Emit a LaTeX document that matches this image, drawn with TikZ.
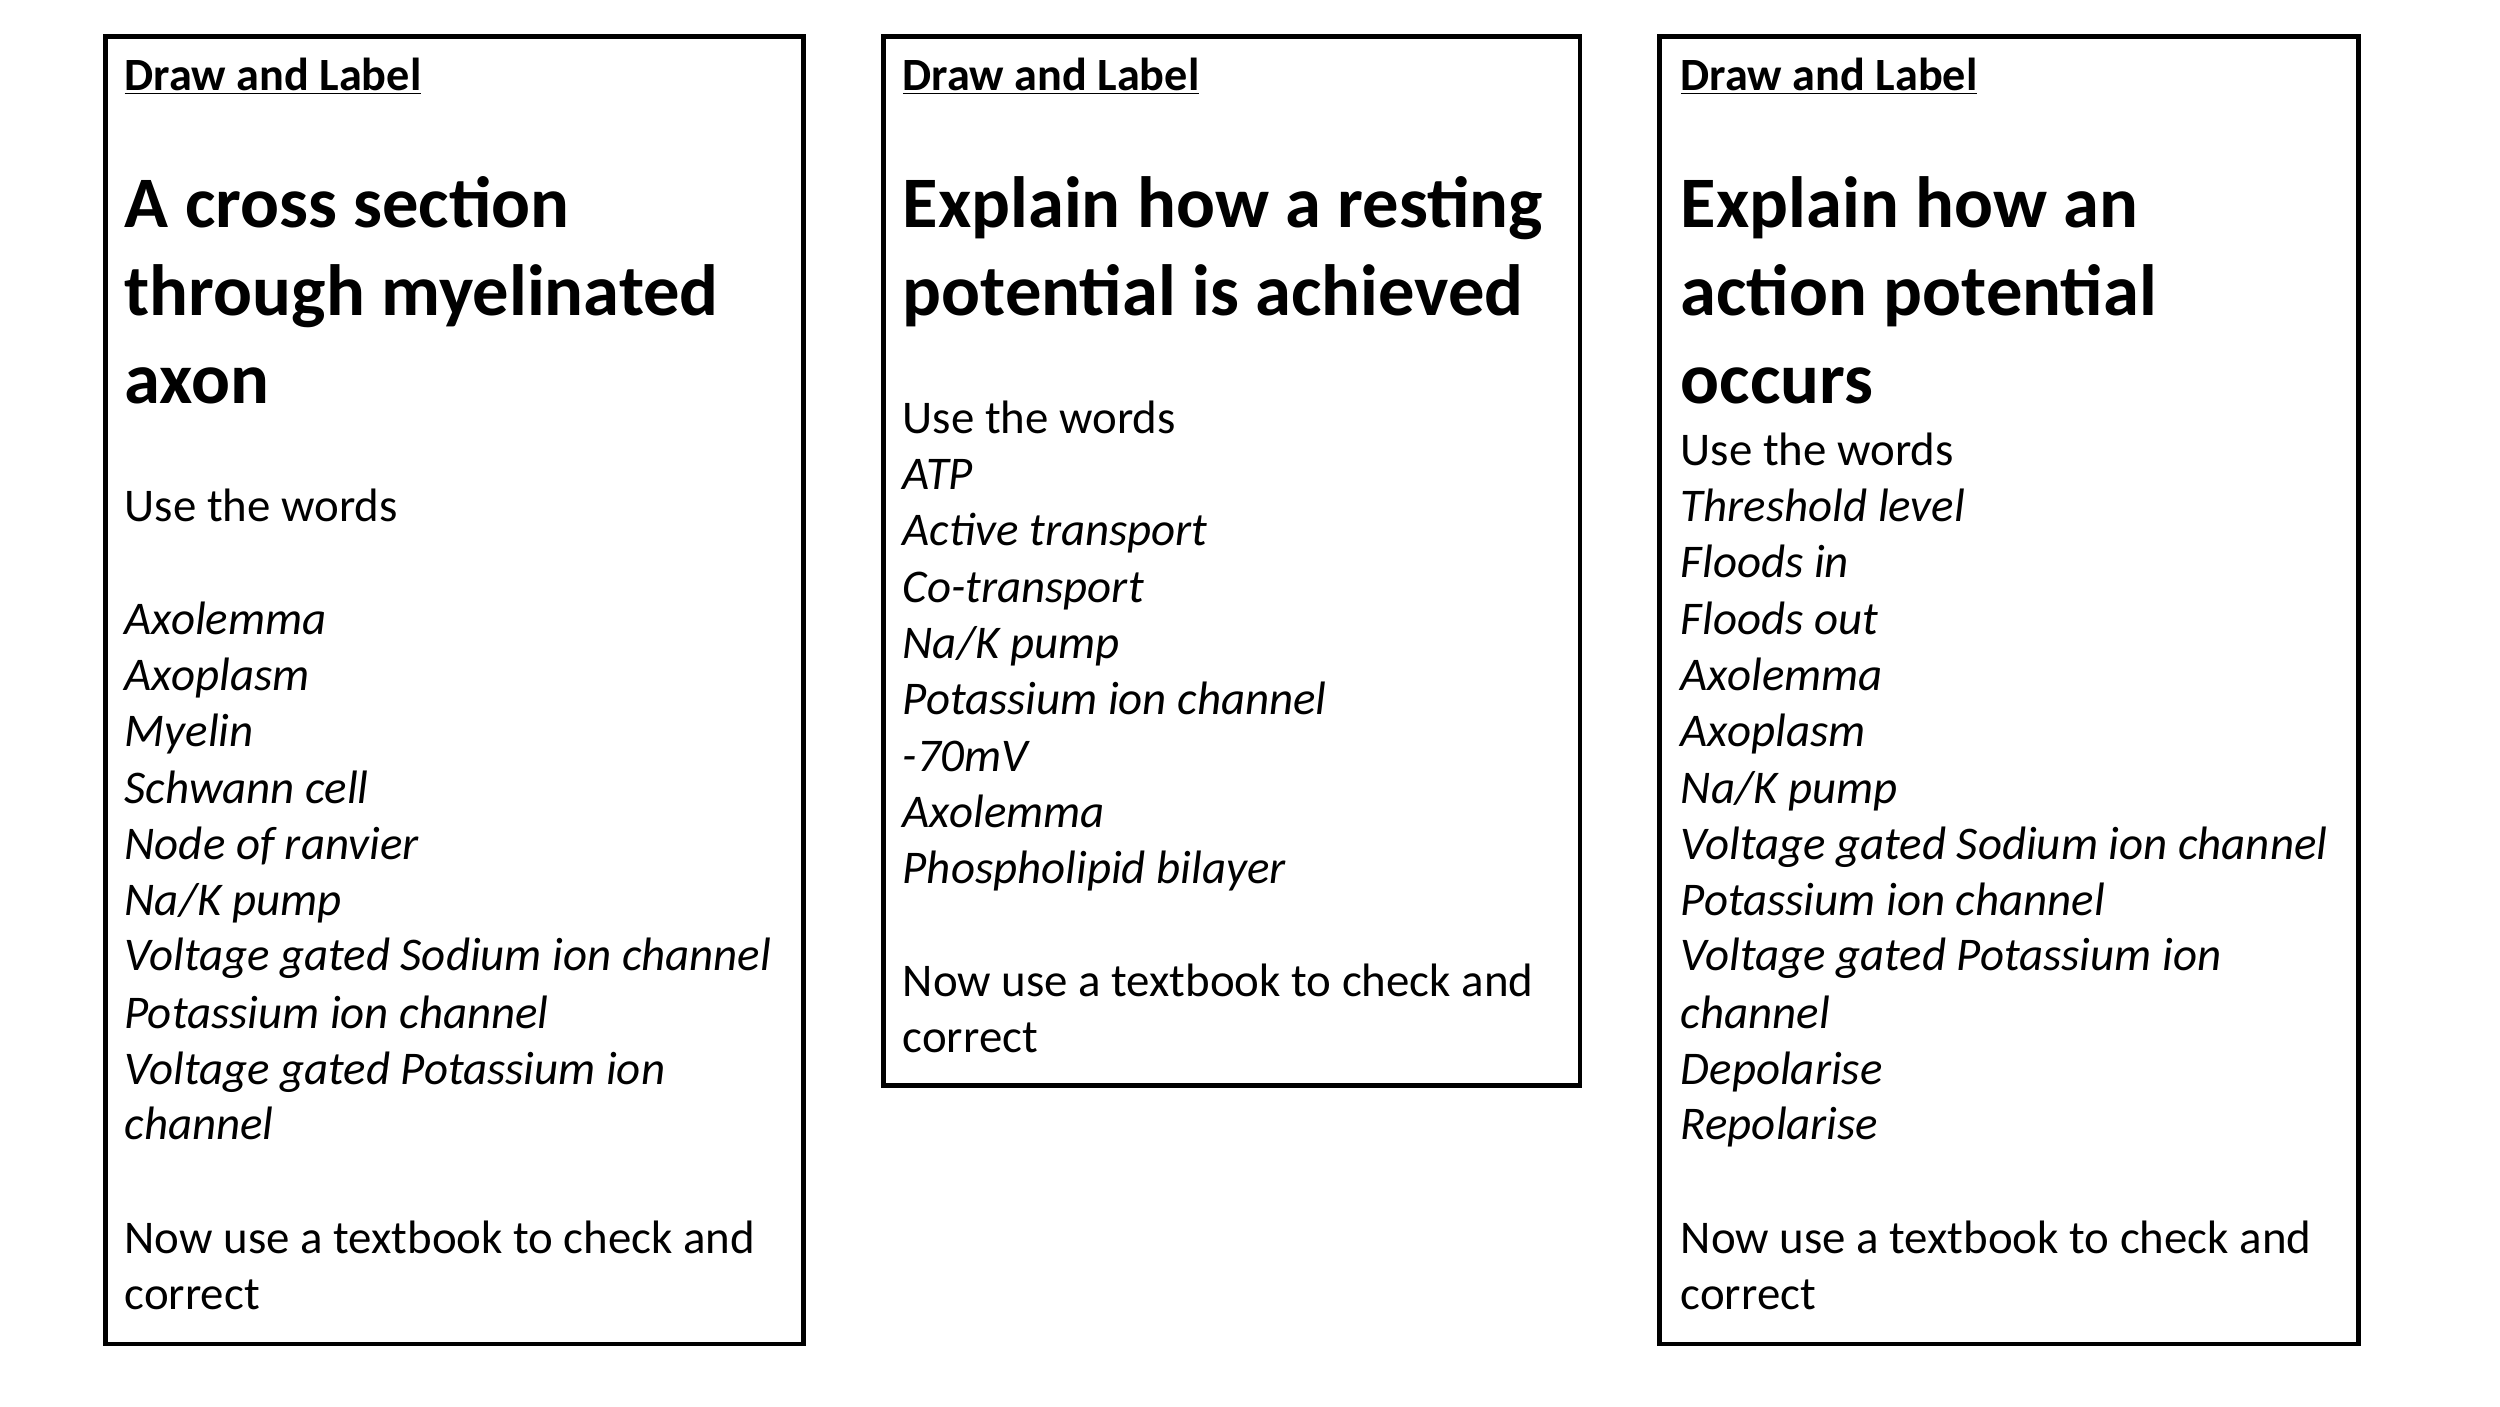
\documentclass[tikz,border=0pt]{standalone}
\usepackage{fontspec}
\setmainfont{Carlito}
\begin{document}
\begin{tikzpicture}[x=1pt,y=-1pt,
  card/.style={draw,line width=3pt},
  hd/.style={anchor=base west,inner sep=0pt,font=\fontsize{29}{34}\selectfont\bfseries},
  ttl/.style={anchor=base west,inner sep=0pt,font=\fontsize{45.5}{54}\selectfont\bfseries},
  bd/.style={anchor=base west,inner sep=0pt,font=\fontsize{29.4}{35}\selectfont},
  it/.style={bd,font=\fontsize{29.4}{35}\selectfont\itshape}]
\useasboundingbox[fill=white] (0,0) rectangle (1568,882);
\newcommand\Ln[5]{\node[#1] (#2) at (#3,#4) {#5};}
% boxes
\draw[card] (66,23) rectangle (504,843);
\draw[card] (554,23) rectangle (991,681);
\draw[card] (1041,23) rectangle (1479,843);
% box 1
\Ln{hd}{ah}{78}{57}{\underline{Draw and Label}}
\Ln{ttl}{at1}{78}{143}{A cross section}
\Ln{ttl}{at2}{78}{198}{through myelinated}
\Ln{ttl}{at3}{78}{253}{axon}
\Ln{bd}{au}{78}{327}{Use the words}
\Ln{it}{a1}{78}{398}{Axolemma}
\Ln{it}{a2}{78}{433}{Axoplasm}
\Ln{it}{a3}{78}{468}{Myelin}
\Ln{it}{a4}{78}{504}{Schwann cell}
\Ln{it}{a5}{78}{539}{Node of ranvier}
\Ln{it}{a6}{78}{574}{Na/K pump}
\Ln{it}{a7}{78}{609}{Voltage gated Sodium ion channel}
\Ln{it}{a8}{78}{645}{Potassium ion channel}
\Ln{it}{a9}{78}{680}{Voltage gated Potassium ion}
\Ln{it}{a10}{78}{715}{channel}
\Ln{bd}{an1}{78}{786}{Now use a textbook to check and}
\Ln{bd}{an2}{78}{821}{correct}
% box 2
\Ln{hd}{bh}{566}{57}{\underline{Draw and Label}}
\Ln{ttl}{bt1}{566}{143}{Explain how a resting}
\Ln{ttl}{bt2}{566}{198}{potential is achieved}
\Ln{bd}{bu}{566}{272}{Use the words}
\Ln{it}{b1}{566}{307}{ATP}
\Ln{it}{b2}{566}{342}{Active transport}
\Ln{it}{b3}{566}{378}{Co-transport}
\Ln{it}{b4}{566}{413}{Na/K pump}
\Ln{it}{b5}{566}{448}{Potassium ion channel}
\Ln{it}{b6}{566}{484}{-70mV}
\Ln{it}{b7}{566}{519}{Axolemma}
\Ln{it}{b8}{566}{554}{Phospholipid bilayer}
\Ln{bd}{bn1}{566}{625}{Now use a textbook to check and}
\Ln{bd}{bn2}{566}{660}{correct}
% box 3
\Ln{hd}{ch}{1054}{57}{\underline{Draw and Label}}
\Ln{ttl}{ct1}{1054}{143}{Explain how an}
\Ln{ttl}{ct2}{1054}{198}{action potential}
\Ln{ttl}{ct3}{1054}{253}{occurs}
\Ln{bd}{cu}{1054}{292}{Use the words}
\Ln{it}{c1}{1054}{327}{Threshold level}
\Ln{it}{c2}{1054}{362}{Floods in}
\Ln{it}{c3}{1054}{398}{Floods out}
\Ln{it}{c4}{1054}{433}{Axolemma}
\Ln{it}{c5}{1054}{468}{Axoplasm}
\Ln{it}{c6}{1054}{504}{Na/K pump}
\Ln{it}{c7}{1054}{539}{Voltage gated Sodium ion channel}
\Ln{it}{c8}{1054}{574}{Potassium ion channel}
\Ln{it}{c9}{1054}{609}{Voltage gated Potassium ion}
\Ln{it}{c10}{1054}{645}{channel}
\Ln{it}{c11}{1054}{680}{Depolarise}
\Ln{it}{c12}{1054}{715}{Repolarise}
\Ln{bd}{cn1}{1054}{786}{Now use a textbook to check and}
\Ln{bd}{cn2}{1054}{821}{correct}
\end{tikzpicture}
\end{document}
